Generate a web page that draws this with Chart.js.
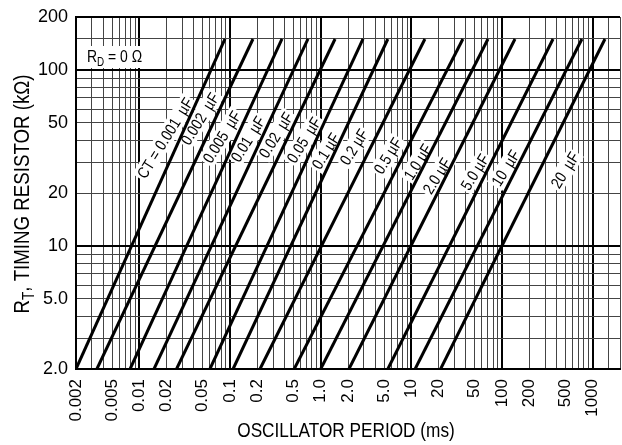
<!DOCTYPE html>
<html>
<head>
<meta charset="utf-8">
<script src="https://cdn.jsdelivr.net/npm/chart.js@4.4.1/dist/chart.umd.min.js"></script>
<style>
  html, body { margin: 0; padding: 0; background: #fff; }
</style>
</head>
<body>
<canvas id="grafico" width="622" height="445"></canvas>
<script>
// curvas CT: periodo (ms) onde a reta cruza RT = 2k e RT = 150k
const capLabels = ['CT = 0.001  µF', '0.002  µF', '0.005  µF', '0.01  µF', '0.02  µF', '0.05  µF',
  '0.1 µF', '0.2 µF', '0.5 µF', '1.0 µF', '2.0 µF', '5.0 µF', '10  µF', '20  µF'];
const rtEnds = [2, 150];
const periodAt2k = [0.002, 0.0034, 0.0079, 0.0145, 0.0257, 0.060, 0.108, 0.214, 0.51, 1.0, 2.05, 5.5, 11, 21];
const periodAt150k = [0.088, 0.179, 0.374, 0.724, 1.44, 2.93, 5.5, 14.1, 37, 70, 139, 365, 760, 1365];

// onde fica o centro de cada etiqueta (periodo, RT)
const labelPeriod = [0.0192, 0.0466, 0.0815, 0.158, 0.321, 0.654, 1.14, 2.33, 5.52, 11.8, 19.2, 50.3, 110, 494];
const labelRt = [41, 52.7, 41.6, 40.5, 42.7, 40, 34.6, 36.5, 32.5, 30, 25, 26.3, 27.7, 27];

// grade e rotulos dos eixos
const xGrid = [];
[0.001, 0.01, 0.1, 1, 10, 100, 1000].forEach(d => {
  for (let k = 1; k <= 9; k++) {
    const v = +(d * k).toPrecision(3);
    if (v >= 0.002 && v <= 2000) xGrid.push(v);
  }
});
xGrid.push(1500, 2000);
const yGrid = [2, 3, 4, 5, 6, 7, 8, 9, 10, 20, 30, 40, 50, 60, 70, 80, 90, 100, 150, 200];
const xTickVals = [0.002, 0.005, 0.01, 0.02, 0.05, 0.1, 0.2, 0.5, 1, 2, 5, 10, 20, 50, 100, 200, 500, 1000];
const xTickText = ['0.002', '0.005', '0.01', '0.02', '0.05', '0.1', '0.2', '0.5', '1.0', '2.0', '5.0', '10', '20', '50', '100', '200', '500', '1000'];
const yTickVals = [2, 5, 10, 20, 50, 100, 200];
const yTickText = ['2.0', '5.0', '10', '20', '50', '100', '200'];

const fonte = "'Liberation Sans', Arial, sans-serif";
Chart.defaults.font.family = fonte;
Chart.defaults.color = '#000';

function isDecade(v) {
  const l = Math.log10(v);
  return Math.abs(l - Math.round(l)) < 1e-6;
}
function findLabel(vals, texts, v) {
  const i = vals.findIndex(a => Math.abs(a - v) / a < 1e-6);
  return i >= 0 ? texts[i] : '';
}

// texto "condensado" com subscrito, parts = [[texto, tamanho, deslocamento]]
function drawParts(ctx, parts, x, y, align, sx) {
  let total = 0;
  parts.forEach(p => { ctx.font = p[1] + 'px ' + fonte; total += ctx.measureText(p[0]).width; });
  ctx.save();
  ctx.translate(x, y);
  ctx.scale(sx, 1);
  let cx = align === 'center' ? -total / 2 : 0;
  ctx.textAlign = 'left';
  parts.forEach(p => {
    ctx.font = p[1] + 'px ' + fonte;
    ctx.fillText(p[0], cx, p[2]);
    cx += ctx.measureText(p[0]).width;
  });
  ctx.restore();
  return total * sx;
}

const textos = {
  id: 'textos',
  beforeDatasetsDraw(chart) {
    const { ctx, scales: { x, y } } = chart;
    ctx.save();
    ctx.textBaseline = 'middle';
    capLabels.forEach((txt, i) => {
      const px = x.getPixelForValue(labelPeriod[i]);
      const py = y.getPixelForValue(labelRt[i]);
      ctx.font = '16px ' + fonte;
      const w = ctx.measureText(txt).width * 0.85;
      ctx.save();
      ctx.translate(px, py);
      ctx.rotate(-58 * Math.PI / 180);
      ctx.fillStyle = '#fff';
      ctx.fillRect(-w / 2 - 2, -9, w + 4, 18);
      ctx.fillStyle = '#000';
      drawParts(ctx, [[txt, 16, 0]], 0, 1, 'center', 0.85);
      ctx.restore();
    });
    // R_D com fundo branco
    ctx.textBaseline = 'alphabetic';
    ctx.fillStyle = '#fff';
    ctx.fillRect(85, 46, 61, 22);
    ctx.fillStyle = '#000';
    drawParts(ctx, [['R', 17, 0], ['D', 12, 4], [' = 0 Ω', 17, 0]], 87, 62, 'left', 0.82);
    ctx.restore();
  },
  afterDraw(chart) {
    const { ctx, chartArea } = chart;
    ctx.save();
    ctx.fillStyle = '#000';
    ctx.textBaseline = 'alphabetic';
    // titulo do eixo x
    drawParts(ctx, [['OSCILLATOR PERIOD (ms)', 21, 0]], (chartArea.left + chartArea.right) / 2 - 2, 437, 'center', 0.82);
    // titulo do eixo y
    ctx.translate(29, 194);
    ctx.rotate(-Math.PI / 2);
    drawParts(ctx, [['R', 22, 0], ['T', 16, 5], [', TIMING RESISTOR (kΩ)', 22, 0]], 0, 0, 'center', 0.85);
    ctx.restore();
  }
};

const datasets = capLabels.map((lbl, i) => ({
  label: lbl,
  data: [{ x: periodAt2k[i], y: rtEnds[0] }, { x: periodAt150k[i], y: rtEnds[1] }],
  showLine: true,
  borderColor: '#000',
  borderWidth: 3,
  pointRadius: 0
}));

new Chart(document.getElementById('grafico'), {
  type: 'scatter',
  data: { datasets: datasets },
  plugins: [textos],
  options: {
    responsive: false,
    animation: false,
    layout: { padding: { top: 17, right: 2, left: 0, bottom: 0 } },
    plugins: { legend: { display: false }, tooltip: { enabled: false } },
    scales: {
      x: {
        type: 'logarithmic',
        min: 0.002,
        max: 2000,
        afterBuildTicks: (s) => { s.ticks = xGrid.map(v => ({ value: v })); },
        afterFit: (s) => { s.height = 76; s.paddingLeft = 0; s.paddingRight = 0; },
        border: { color: '#000', width: 2 },
        grid: {
          drawTicks: false,
          color: (c) => isDecade(c.tick.value) ? '#000' : '#444',
          lineWidth: (c) => isDecade(c.tick.value) ? 2 : 1
        },
        ticks: {
          autoSkip: false,
          minRotation: 90,
          maxRotation: 90,
          padding: 10,
          font: { size: 17 },
          callback: (v) => findLabel(xTickVals, xTickText, v)
        },
        title: { display: false }
      },
      y: {
        type: 'logarithmic',
        min: 2,
        max: 200,
        afterBuildTicks: (s) => { s.ticks = yGrid.map(v => ({ value: v })); },
        afterFit: (s) => { s.width = 76; s.paddingTop = 0; s.paddingBottom = 0; },
        border: { color: '#000', width: 2 },
        grid: {
          drawTicks: false,
          color: (c) => (isDecade(c.tick.value) || c.tick.value === 200) ? '#000' : '#444',
          lineWidth: (c) => (isDecade(c.tick.value) || c.tick.value === 200) ? 2 : 1
        },
        ticks: {
          autoSkip: false,
          padding: 8,
          font: { size: 18 },
          callback: (v) => findLabel(yTickVals, yTickText, v)
        }
      }
    }
  }
});
</script>
</body>
</html>
